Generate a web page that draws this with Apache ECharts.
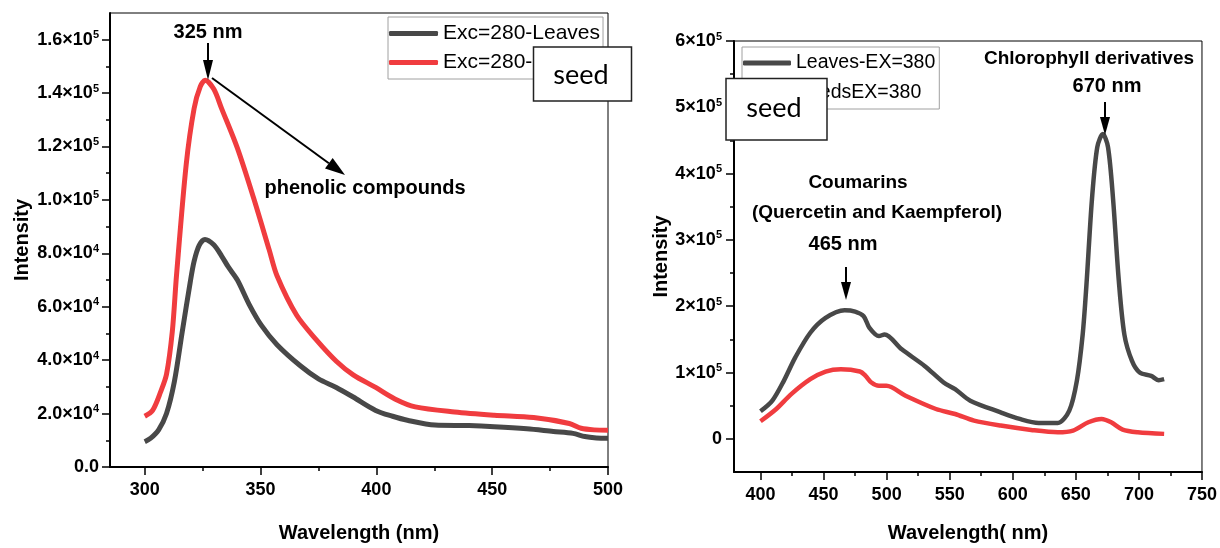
<!DOCTYPE html>
<html>
<head>
<meta charset="utf-8">
<script src="https://cdn.jsdelivr.net/npm/echarts@6/dist/echarts.min.js"></script>
<style>
  html, body { margin: 0; padding: 0; background: #fff; }
  #chart { width: 1220px; height: 548px; }
</style>
</head>
<body>
<div id="chart"></div>
<script>
// ---- data ----
// left panel, excitation 280 nm
const leaves280X = [300, 302.6, 306, 309.4, 312.8, 316.2, 319.6, 321.3, 323.5, 326, 329.8, 333.2, 336, 340, 345, 350.3, 357.1, 367.3, 375, 382.7, 390, 399.7, 407, 413.4, 425.3, 440, 450.9, 465, 476.4, 484.9, 490, 495, 500];
const leaves280Y = [9500, 10800, 13900, 20000, 32000, 50700, 69000, 77000, 83000, 85200, 83200, 79000, 75000, 70000, 61000, 53100, 45800, 37800, 33000, 29800, 26200, 21200, 19000, 17500, 15700, 15500, 15100, 14300, 13300, 12600, 11400, 10900, 10800];
const seed280X = [300, 303.4, 306.8, 309.4, 311.9, 313.7, 317.9, 321.3, 324, 326.1, 329.8, 333.2, 340, 346.9, 353.7, 357.1, 365.6, 374.1, 382.7, 390, 399.7, 408, 416.8, 433.8, 450.9, 467.9, 483.3, 488.4, 494, 500];
const seed280Y = [19000, 21200, 28000, 34700, 50700, 71600, 113300, 134200, 142500, 144800, 141500, 134200, 119400, 101000, 81400, 71600, 56800, 47600, 39600, 34500, 29800, 25500, 22500, 20600, 19400, 18500, 16300, 14500, 13900, 13800];

// right panel, excitation 380 nm
const leaves380X = [400, 409.4, 418.5, 427.5, 439.5, 451.6, 466.7, 475, 481.8, 486.4, 493.9, 498.4, 512, 530.1, 545.2, 554.3, 566.3, 590.4, 605.5, 620.6, 635.7, 644.8, 650.8, 655.4, 658.4, 662.8, 667, 671.4, 675.5, 679.5, 684, 688.5, 694.5, 700.6, 709.7, 715.7, 720];
const leaves380Y = [41500, 57600, 87500, 122500, 160000, 182400, 194000, 192000, 185000, 167400, 155000, 157400, 135000, 110000, 85000, 75000, 57600, 40000, 30000, 24000, 24000, 42600, 87500, 157000, 232000, 362000, 440000, 459700, 440000, 362000, 240000, 157000, 117500, 100000, 95000, 88500, 90000];
const seed380X = [400, 412.5, 424.4, 439.5, 451.6, 463.7, 478.8, 483.3, 487.9, 493.9, 499.9, 515, 539.1, 554.3, 569.3, 590.4, 614.6, 635.7, 647.8, 659.9, 670.4, 678, 687.1, 699.1, 720];
const seed380Y = [26500, 45000, 67500, 90000, 101500, 105000, 101500, 95000, 85000, 80000, 80000, 65000, 45000, 37500, 27500, 20000, 13500, 10000, 12500, 25000, 30000, 25000, 14000, 10000, 7500];

// tick values
const leftXTicks = [300, 350, 400, 450, 500];
const leftXMinor = [325, 375, 425, 475];
const leftYTicks = [0, 20000, 40000, 60000, 80000, 100000, 120000, 140000, 160000];
const leftYMinor = [10000, 30000, 50000, 70000, 90000, 110000, 130000, 150000];
const rightXTicks = [400, 450, 500, 550, 600, 650, 700, 750];
const rightXMinor = [425, 475, 525, 575, 625, 675, 725];
const rightYTicks = [0, 100000, 200000, 300000, 400000, 500000, 600000];
const rightYMinor = [50000, 150000, 250000, 350000, 450000, 550000];

const GRAY = '#484848';
const RED = '#f03c3f';
const FONT = 'Liberation Sans, Arial, sans-serif';

const zip = (xs, ys) => xs.map((x, i) => [x, ys[i]]);

function sciLabel(v, digits) {
  if (v === 0) return '{b|' + (digits ? '0.0' : '0') + '}';
  const e = Math.floor(Math.log10(v) + 1e-9);
  const m = v / Math.pow(10, e);
  return '{b|' + m.toFixed(digits) + '×10}{s|' + e + '}';
}

const labelRich = {
  b: { fontSize: 18, fontWeight: 'bold', fontFamily: FONT, color: '#000', lineHeight: 20 },
  s: { fontSize: 11, fontWeight: 'bold', fontFamily: FONT, color: '#000', lineHeight: 11, verticalAlign: 'top' }
};

function majorAxis(opts) {
  return Object.assign({
    type: 'value',
    splitLine: { show: false },
    axisLine: { show: true, onZero: false, lineStyle: { color: '#000', width: 2 } },
    nameLocation: 'middle',
    nameTextStyle: { fontSize: 20, fontWeight: 'bold', fontFamily: FONT, color: '#000' }
  }, opts);
}

function minorAxis(opts) {
  return Object.assign({
    type: 'value',
    splitLine: { show: false },
    axisLine: { show: false, onZero: false },
    axisLabel: { show: false }
  }, opts);
}

function ticks(values, len) {
  return { show: true, length: len, customValues: values, lineStyle: { color: '#000', width: 1.5 } };
}

function arrow(x1, y1, x2, y2, headLen, headW) {
  const dx = x2 - x1, dy = y2 - y1;
  const len = Math.sqrt(dx * dx + dy * dy);
  const ux = dx / len, uy = dy / len;
  const bx = x2 - ux * headLen, by = y2 - uy * headLen;
  return [
    { type: 'line', shape: { x1: x1, y1: y1, x2: bx, y2: by }, style: { stroke: '#000', lineWidth: 2 }, z: 100 },
    { type: 'polygon', shape: { points: [[x2, y2], [bx - uy * headW / 2, by + ux * headW / 2], [bx + uy * headW / 2, by - ux * headW / 2]] }, style: { fill: '#000' }, z: 100 }
  ];
}

function note(text, x, y, size) {
  return { type: 'text', x: x, y: y, z: 100, style: { text: text, fontSize: size || 20, fontWeight: 'bold', fontFamily: FONT, fill: '#000', align: 'center', verticalAlign: 'middle' } };
}

function seedBox(x, y, w, h, tx, ty) {
  return [
    { type: 'rect', shape: { x: x, y: y, width: w, height: h }, style: { fill: '#fff', stroke: '#222', lineWidth: 1.5 }, z: 110 },
    { type: 'text', x: tx, y: ty, z: 111, style: { text: 'seed', fontSize: 27, fontFamily: 'Lato, Open Sans, sans-serif', fill: '#000', align: 'center', verticalAlign: 'middle' } }
  ];
}

const chart = echarts.init(document.getElementById('chart'));

const option = {
  backgroundColor: '#fff',
  animation: false,
  textStyle: { fontFamily: FONT },
  grid: [
    { left: 110, top: 13, width: 498, height: 461, show: true, borderColor: '#000', borderWidth: 1, containLabel: false },
    { left: 734, top: 41, width: 471, height: 433.5, show: true, borderColor: '#000', borderWidth: 1, containLabel: false }
  ],
  legend: [
    {
      data: ['Exc=280-Leaves', 'Exc=280-Seeds'],
      left: 388, top: 17, orient: 'vertical',
      icon: 'roundRect', itemWidth: 49, itemHeight: 5, itemGap: 8,
      padding: [6, 3, 6, 1],
      borderColor: '#a0a0a0', borderWidth: 1,
      textStyle: { fontSize: 21, color: '#000', fontFamily: FONT }
    },
    {
      data: ['Leaves-EX=380', 'SeedsEX=380'],
      left: 742, top: 47, orient: 'vertical',
      icon: 'roundRect', itemWidth: 48, itemHeight: 5, itemGap: 10,
      padding: [6, 4, 6, 1],
      borderColor: '#a0a0a0', borderWidth: 1,
      textStyle: { fontSize: 19.5, color: '#000', fontFamily: FONT }
    }
  ],
  xAxis: [
    majorAxis({
      gridIndex: 0, position: 'bottom', min: 285, max: 500,
      name: 'Wavelength (nm)', nameGap: 56,
      axisTick: ticks(leftXTicks, 8),
      axisLabel: { customValues: leftXTicks, margin: 14, fontSize: 18, fontWeight: 'bold', color: '#000', fontFamily: FONT }
    }),
    minorAxis({ gridIndex: 0, position: 'bottom', min: 285, max: 500, axisTick: ticks(leftXMinor, 4) }),
    majorAxis({
      gridIndex: 1, position: 'bottom', min: 379, max: 750,
      name: 'Wavelength( nm)', nameGap: 51,
      axisTick: ticks(rightXTicks, 8),
      axisLabel: { customValues: rightXTicks, margin: 14, fontSize: 18, fontWeight: 'bold', color: '#000', fontFamily: FONT }
    }),
    minorAxis({ gridIndex: 1, position: 'bottom', min: 379, max: 750, axisTick: ticks(rightXMinor, 4) })
  ],
  yAxis: [
    majorAxis({
      gridIndex: 0, position: 'left', min: 0, max: 170000,
      name: 'Intensity', nameGap: 78,
      axisTick: ticks(leftYTicks, 8),
      axisLabel: { customValues: leftYTicks, margin: 11, formatter: v => sciLabel(v, 1), rich: labelRich }
    }),
    minorAxis({ gridIndex: 0, position: 'left', min: 0, max: 170000, axisTick: ticks(leftYMinor, 4) }),
    majorAxis({
      gridIndex: 1, position: 'left', min: -50000, max: 600000,
      name: 'Intensity', nameGap: 62,
      axisTick: ticks(rightYTicks, 8),
      axisLabel: { customValues: rightYTicks, margin: 12, formatter: v => sciLabel(v, 0), rich: labelRich }
    }),
    minorAxis({ gridIndex: 1, position: 'left', min: -50000, max: 600000, axisTick: ticks(rightYMinor, 4) })
  ],
  series: [
    { name: 'Exc=280-Leaves', type: 'line', xAxisIndex: 0, yAxisIndex: 0, data: zip(leaves280X, leaves280Y),
      symbol: 'none', smooth: 0.3, lineStyle: { color: GRAY, width: 5 }, itemStyle: { color: GRAY } },
    { name: 'Exc=280-Seeds', type: 'line', xAxisIndex: 0, yAxisIndex: 0, data: zip(seed280X, seed280Y),
      symbol: 'none', smooth: 0.3, lineStyle: { color: RED, width: 5 }, itemStyle: { color: RED } },
    { name: 'Leaves-EX=380', type: 'line', xAxisIndex: 2, yAxisIndex: 2, data: zip(leaves380X, leaves380Y),
      symbol: 'none', smooth: 0.3, lineStyle: { color: GRAY, width: 4.5 }, itemStyle: { color: GRAY } },
    { name: 'SeedsEX=380', type: 'line', xAxisIndex: 2, yAxisIndex: 2, data: zip(seed380X, seed380Y),
      symbol: 'none', smooth: 0.3, lineStyle: { color: RED, width: 4.5 }, itemStyle: { color: RED } }
  ],
  graphic: [].concat(
    note('325 nm', 208, 32),
    arrow(208, 43, 208, 80, 20, 10),
    arrow(212, 78, 345, 175, 20, 13),
    note('phenolic compounds', 365, 188),
    note('Chlorophyll derivatives', 1089, 59, 19),
    note('670 nm', 1107, 86),
    arrow(1105, 102, 1105, 135, 18, 10),
    note('Coumarins', 858, 183, 19),
    note('(Quercetin and Kaempferol)', 877, 213, 19),
    note('465 nm', 843, 244),
    arrow(846, 267, 846, 300, 18, 10),
    seedBox(533.5, 47, 98, 54, 581, 75),
    seedBox(726, 78.5, 101, 61.5, 774, 108)
  )
};

chart.setOption(option);
</script>
</body>
</html>
